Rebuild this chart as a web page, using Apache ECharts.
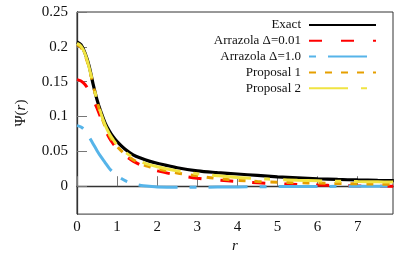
<!DOCTYPE html>
<html>
<head>
<meta charset="utf-8">
<script src="https://cdn.jsdelivr.net/npm/echarts@6/dist/echarts.min.js"></script>
<style>html,body{margin:0;padding:0;background:#fff;}#c{width:415px;height:259px;}</style>
</head>
<body>
<div id="c"></div>
<script>
var rValues = [0,0.1,0.2,0.3,0.4,0.5,0.6,0.7,0.8,0.9,1.0,1.2,1.4,1.6,1.8,2.0,2.5,3.0,3.5,4.0,4.5,5.0,5.5,6.0,6.5,7.0,7.5,7.9];
var exact = [0.207,0.203,0.191,0.173,0.147,0.124,0.106,0.091,0.080,0.071,0.064,0.053,0.045,0.040,0.036,0.033,0.0265,0.022,0.0195,0.0175,0.0155,0.0135,0.0120,0.0107,0.0097,0.0090,0.0084,0.0080];
var arrazola001 = [0.153,0.151,0.146,0.137,0.125,0.112,0.097,0.082,0.070,0.061,0.054,0.044,0.036,0.030,0.025,0.022,0.016,0.0115,0.0088,0.0068,0.0050,0.0036,0.0025,0.0016,0.0009,0.0004,0.0001,0.0];
var arrazola10 = [0.087,0.085,0.080,0.071,0.061,0.051,0.042,0.034,0.026,0.020,0.015,0.008,0.004,0.001,0.0,-0.001,-0.0015,-0.0015,-0.0012,-0.001,-0.0008,-0.0005,-0.0004,-0.0003,-0.0002,0.0,0.0,0.0];
var proposal1 = [0.203,0.199,0.188,0.170,0.146,0.122,0.102,0.086,0.074,0.064,0.057,0.046,0.038,0.032,0.028,0.025,0.019,0.015,0.011,0.0085,0.0068,0.0058,0.0050,0.0045,0.0040,0.0035,0.0030,0.0028];
var proposal2 = [0.205,0.201,0.190,0.171,0.147,0.123,0.104,0.088,0.076,0.067,0.059,0.049,0.041,0.035,0.031,0.028,0.022,0.018,0.015,0.0125,0.011,0.0095,0.0085,0.0078,0.0072,0.0067,0.0063,0.0060];
var seriesNames = ['Exact','Arrazola Δ=0.01','Arrazola Δ=1.0','Proposal 1','Proposal 2'];
var xTicks = [0,1,2,3,4,5,6,7];
var yTicks = [0,0.05,0.1,0.15,0.2,0.25];

function pairs(ys){ return rValues.map(function(r,i){ return [r, ys[i]]; }); }
var allData = [exact, arrazola001, arrazola10, proposal1, proposal2];
var colors = ['#000000','#ff0000','#56b4e9','#e69f00','#f0e442'];
var dashes = ['solid',[13,19],[7,12,39,12],[7,9],[39,13,6,13]];
var widths = [3.2,3,3,3,3];

var font = 'Liberation Serif';
var chart = echarts.init(document.getElementById('c'), null, {renderer:'canvas'});
chart.setOption({
  animation:false,
  backgroundColor:'#fff',
  grid:{left:77,top:12,right:22,bottom:42,show:true,borderColor:'#333',borderWidth:1,backgroundColor:'transparent'},
  legend:{
    orient:'vertical', align:'right', right:38, top:18, padding:0,
    itemWidth:67, itemHeight:10, itemGap:1.8,
    data:seriesNames,
    itemStyle:{opacity:0},
    textStyle:{fontFamily:font,fontSize:13,color:'#111',lineHeight:14,padding:[0,3,0,0]},
    selectedMode:false
  },
  xAxis:{
    type:'value', min:0, max:7.88,
    name:'r', nameLocation:'middle', nameGap:22,
    nameTextStyle:{fontFamily:font,fontSize:15,fontStyle:'italic',color:'#111'},
    axisLine:{show:true,lineStyle:{color:'#333',width:1.3}},
    axisTick:{show:true,inside:true,length:10,customValues:xTicks,lineStyle:{color:'#777',width:1}},
    axisLabel:{customValues:xTicks,margin:5,fontFamily:font,fontSize:15,color:'#111'},
    splitLine:{show:false}
  },
  yAxis:{
    type:'value', min:-0.04, max:0.25,
    name:'{a|Ψ(}{b|r}{a|)}', nameLocation:'middle', nameGap:48, nameRotate:90,
    nameTextStyle:{rich:{a:{fontFamily:font,fontSize:15,color:'#111'},b:{fontFamily:font,fontSize:15,fontStyle:'italic',color:'#111'}}},
    axisLine:{show:true,lineStyle:{color:'#333',width:1.3}},
    axisTick:{show:true,inside:true,length:10,customValues:yTicks,lineStyle:{color:'#777',width:1}},
    axisLabel:{customValues:yTicks,margin:9,fontFamily:font,fontSize:15,color:'#111'},
    splitLine:{show:false}
  },
  series: seriesNames.map(function(n,i){
    return {
      name:n, type:'line', data:pairs(allData[i]),
      symbol:'none', smooth:0.35,
      color:colors[i],
      lineStyle:{color:colors[i],width:widths[i],type:dashes[i],cap:'butt'},
      z:2+i
    };
  })
});
</script>
</body>
</html>
